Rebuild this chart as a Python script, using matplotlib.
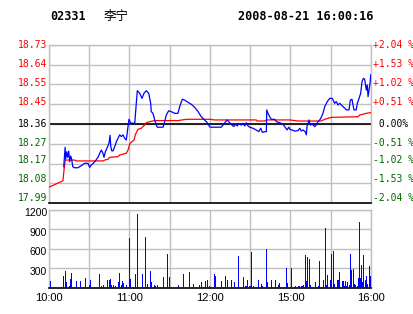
#intraday chart for 02331 (Li Ning) on 2008-08-21: price / average line with volume bars below

import numpy as np
import matplotlib
matplotlib.use('Agg')
import matplotlib.pyplot as plt
from matplotlib import transforms

#price line (blue), minutes since 10:00 on the trading clock (lunch break removed)
price_min=[11,12,12.4,13.2,13.9,14.7,15.4,16.2,16.9,17.7,19.2,21.6,24.1,26.6,29.1,30.3,31.5,34.1,36.5,37.8,
           39.0,40.2,41.0,42.0,43.5,44.7,45.5,46.0,46.7,47.7,49.0,50.2,51.4,52.7,53.9,55.2,56.4,57.6,58.9,59.6,
           60.9,63.9,65.8,67.6,69.3,70.8,72.5,74.3,75.8,76.2,77.5,78.8,80.0,80.7,85.0,86.2,87.4,89.2,91.1,93.7,
           96.1,97.4,99.4,101.1,103.6,106.1,108.6,111.1,113.5,116.0,118.0,119.8,120.5,128.4,131.0,132.7,134.7,136.4,137.7,138.9,
           140.3,141.4,143.3,144.6,145.9,147.1,148.3,149.6,152.0,154.5,156.3,157.8,159.0,160.8,162.0,162.3,163.2,164.5,165.7,168.2,
           169.4,172.0,174.4,175.7,177.4,178.7,179.6,181.1,183.1,185.6,186.9,188.1,189.3,191.0,191.8,192.3,193.8,194.8,196.2,198.0,
           199.2,200.5,201.8,202.9,204.2,205.5,207.4,209.2,211.2,212.9,214.1,215.4,216.7,217.9,220.4,221.6,223.6,224.6,225.8,226.6,
           227.3,229.0,229.8,231.1,232.3,233.3,234.3,235.3,236.5,237.2,237.8,238.5,239.3,239.8]
price=[18.160,18.251,18.195,18.230,18.204,18.233,18.183,18.210,18.195,18.160,18.155,18.155,18.165,18.176,18.176,18.157,18.168,18.183,18.204,18.223,
       18.238,18.223,18.204,18.230,18.251,18.270,18.307,18.257,18.235,18.234,18.254,18.277,18.293,18.309,18.301,18.309,18.293,18.285,18.348,18.382,
       18.364,18.364,18.516,18.504,18.480,18.504,18.516,18.504,18.457,18.418,18.410,18.379,18.355,18.345,18.345,18.371,18.402,18.422,18.418,18.410,
       18.410,18.441,18.476,18.472,18.462,18.452,18.438,18.418,18.394,18.379,18.366,18.347,18.345,18.345,18.366,18.379,18.366,18.355,18.348,18.359,
       18.351,18.363,18.355,18.363,18.351,18.366,18.351,18.345,18.340,18.332,18.324,18.340,18.321,18.324,18.324,18.426,18.410,18.394,18.382,18.382,
       18.371,18.366,18.360,18.348,18.332,18.345,18.335,18.332,18.327,18.329,18.340,18.327,18.332,18.324,18.309,18.348,18.379,18.355,18.360,18.348,
       18.355,18.371,18.379,18.391,18.410,18.441,18.465,18.480,18.480,18.457,18.465,18.449,18.457,18.449,18.434,18.426,18.426,18.472,18.476,18.449,
       18.426,18.426,18.457,18.480,18.504,18.558,18.574,18.569,18.519,18.543,18.488,18.519,18.551,18.590]

#average price line (red)
avg_min=[0,10.4,11.2,12.1,19.2,20.3,40.2,41.5,44.0,45.2,51.4,52.7,57.6,58.9,60.4,63.4,64.3,66.3,68.8,70.1,
         71.3,72.5,75.1,78.8,96.1,102.3,120.0,123.5,154.5,155.0,160.8,162.0,179.6,185.6,202.9,205.5,210.4,230.3,231.6,236.5,239.8]
avg_price=[18.064,18.094,18.145,18.191,18.191,18.187,18.187,18.191,18.195,18.204,18.207,18.215,18.223,18.238,18.270,18.285,18.309,18.335,18.340,18.348,
           18.355,18.366,18.371,18.376,18.376,18.382,18.382,18.379,18.379,18.374,18.374,18.379,18.379,18.374,18.374,18.382,18.391,18.394,18.402,18.410,18.413]

#volume bars
vol_min=[1.0,10.7,12.2,12.9,15.2,15.9,16.6,19.9,22.9,27.1,30.1,30.8,37.5,39.0,40.5,43.5,45.0,45.7,46.5,47.9,
         49.4,51.7,52.4,53.9,54.7,55.4,57.6,59.9,60.6,64.3,65.8,69.6,71.8,73.3,75.5,76.3,78.5,79.2,80.7,85.2,
         88.2,89.7,96.4,100.1,104.6,107.6,112.0,113.5,116.5,118.0,119.5,123.2,124.0,128.4,131.4,132.9,135.9,138.1,141.1,144.8,
         146.3,147.1,147.8,149.3,150.1,150.8,152.3,156.0,158.3,159.0,162.0,162.7,165.7,168.7,170.9,171.7,176.9,177.6,180.6,183.6,
         185.8,186.6,188.1,188.8,189.6,191.0,191.8,192.5,194.0,194.8,198.5,200.7,201.5,204.5,205.9,206.7,207.4,209.7,210.4,211.9,
         212.7,214.9,215.6,216.4,218.6,219.4,220.1,220.9,221.6,222.3,223.8,224.6,225.3,226.8,227.6,228.3,229.8,230.5,231.3,232.0,
         232.8,233.5,234.3,235.8,236.5,237.3,238.7,239.5]
volume=[107,183,260,87,31,138,229,107,107,153,46,117,214,31,46,122,122,138,46,46,
        31,92,229,46,107,76,46,764,138,214,1131,214,780,61,260,92,46,31,46,168,
        520,168,46,214,245,61,46,92,107,122,31,214,183,107,183,122,122,92,489,168,
        31,31,122,31,31,550,31,122,61,31,596,92,122,122,46,76,306,76,306,31,
        31,31,31,31,46,504,107,474,443,46,92,31,413,122,917,46,199,122,520,566,
        61,122,122,245,107,107,31,107,31,92,46,520,275,290,61,46,31,153,1009,153,
        352,92,504,122,183,61,336,183]

price_ticks=['18.73','18.64','18.55','18.45','18.36','18.27','18.17','18.08','17.99']
pct_ticks=['+2.04 %','+1.53 %','+1.02 %','+0.51 %',' 0.00%','-0.51 %','-1.02 %','-1.53 %','-2.04 %']
vol_ticks=[300,600,900,1200]
time_ticks=[0,60,120,180,240]
time_labels=['10:00','11:00','12:00','15:00','16:00']

code='02331'
name='李宁'
stamp='2008-08-21 16:00:16'

p_low,p_high=17.99,18.73
prev_close=18.36

red='#ff0000'
green='#006600'
blue='#0000ff'
grid='#c0c0c0'

W,H=414,314
fig=plt.figure(figsize=(W/100,H/100),dpi=100)
fig.patch.set_facecolor('white')

def px_axes(x0,y0,x1,y1):
    #pixel box (top-left origin) to figure fraction
    return fig.add_axes([x0/W,1-y1/H,(x1-x0)/W,(y1-y0)/H])

def nudge(artist,dy_px):
    #shift a text artist down by dy_px pixels
    artist.set_transform(artist.get_transform()+transforms.ScaledTranslation(0,-dy_px/100,fig.dpi_scale_trans))

ax=px_axes(49,45,371,203)
axv=px_axes(49,209.5,371,288)

grid_levels=np.linspace(p_high,p_low,len(price_ticks))
label_shift=[0,-0.7,-1.5,-2.2,0,-0.7,-3.5,-4.2,-5] #labels sit a bit off their grid lines in the original

for a in [ax,axv]:
    a.set_xlim(0,240)
    a.set_xticks(np.arange(0,241,30))
    a.set_xticklabels([])
    a.set_yticks([])
    a.tick_params(length=0)
    for side in ['top','left','right']:
        a.spines[side].set_color(grid)
        a.spines[side].set_linewidth(1)
    a.spines['bottom'].set_color('black')
    a.spines['bottom'].set_linewidth(1.2)
    a.set_axisbelow(True)

#price panel
ax.set_ylim(p_low,p_high)
ax.grid(True,axis='x',color=grid,linewidth=1)
for val in grid_levels:
    ax.axhline(val,color=grid,linewidth=1,zorder=1)

ytrans=transforms.blended_transform_factory(fig.transFigure,ax.transData)
for lbl,pct,val,dy in zip(price_ticks,pct_ticks,grid_levels,label_shift):
    if abs(val-prev_close)<1e-3:
        c='black'
    elif val>prev_close:
        c=red
    else:
        c=green
    t1=fig.text(47/W,val,lbl,transform=ytrans,color=c,family='DejaVu Sans Mono',fontsize=7,ha='right',va='center')
    t2=fig.text(373/W,val,pct,transform=ytrans,color=c,family='DejaVu Sans Mono',fontsize=7,ha='left',va='center')
    nudge(t1,dy)
    nudge(t2,dy)

ax.axhline(prev_close,color='black',linewidth=1.2,zorder=2)
ax.plot(avg_min,avg_price,color=red,linewidth=0.9,zorder=3)
ax.plot(price_min,price,color=blue,linewidth=0.9,zorder=4)

#volume panel
axv.set_ylim(0,1200)
axv.grid(True,axis='x',color=grid,linewidth=1)
vtrans=transforms.blended_transform_factory(fig.transFigure,axv.transData)
for v in vol_ticks:
    axv.axhline(v,color=grid,linewidth=1,zorder=1)
    t=fig.text(47/W,v,str(v),transform=vtrans,family='Liberation Sans',fontsize=7.5,ha='right',va='center')
    nudge(t,3.5)
axv.vlines(vol_min,0,volume,colors=blue,linewidth=0.72,antialiased=False,zorder=3)
for t,l in zip(time_ticks,time_labels):
    axv.text(t,-0.13,l,transform=axv.get_xaxis_transform(),ha='center',va='center',
             family='Liberation Sans',fontsize=8)

#header
fig.text(50/W,1-16.5/H,code,family='DejaVu Sans Mono',fontweight='bold',fontsize=8.5,va='center',ha='left')
fig.text(104/W,1-16.5/H,name,family=['Noto Sans CJK SC','DejaVu Sans'],fontsize=9,va='center',ha='left')
fig.text(238/W,1-16.5/H,stamp,family='DejaVu Sans Mono',fontweight='bold',fontsize=8.5,va='center',ha='left')

fig.savefig('out.png',dpi=100)
